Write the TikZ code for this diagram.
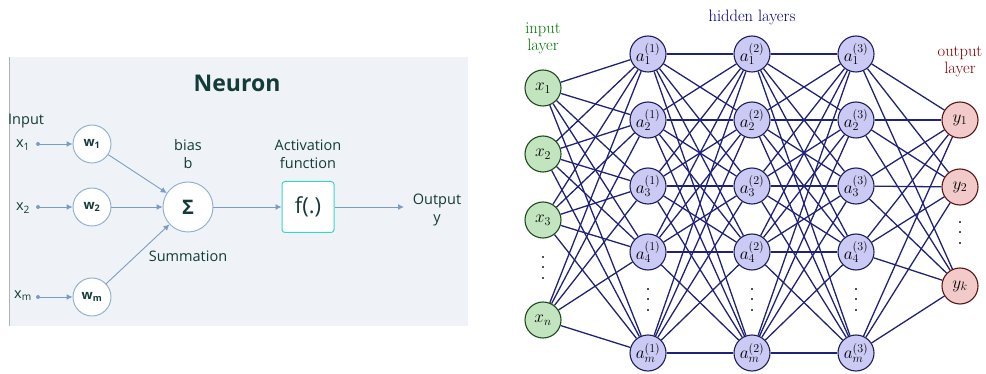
\documentclass[tikz,border=0pt]{standalone}
\usepackage{fontspec}
\newfontfamily\panelfont{Open Sans}
\usetikzlibrary{positioning,arrows.meta}

\definecolor{panelbg}{HTML}{EFF3F8}
\definecolor{paneltext}{HTML}{133B37}
\definecolor{wire}{HTML}{7C9DC2}
\definecolor{ring}{HTML}{8DADCF}
\definecolor{actline}{HTML}{3AD6C4}
\definecolor{netline}{HTML}{1F2275}
\definecolor{infill}{HTML}{C2E5BF}
\definecolor{inline}{HTML}{1E4A1E}
\definecolor{hidfill}{HTML}{CACAF4}
\definecolor{hidline}{HTML}{1E1E5A}
\definecolor{outfill}{HTML}{F2CACA}
\definecolor{outline}{HTML}{5A1414}

\newcommand{\tallvdots}{\vbox{\baselineskip=10.5pt\lineskiplimit=-20pt\hbox{.}\hbox{.}\hbox{.}}}

\begin{document}
\begin{tikzpicture}[x=1pt,y=-1pt,
		every node/.style={inner sep=0pt},
		paneltxt/.style={font=\panelfont\fontsize{14.5}{18}\selectfont, text=paneltext, align=center},
		weightnode/.style={circle, draw=ring, fill=white, line width=0.9pt, minimum size=38pt,
			font=\panelfont\bfseries\fontsize{13}{14}\selectfont, text=paneltext},
		sumnode/.style={circle, draw=ring, fill=white, line width=0.9pt, minimum size=50pt,
			font=\panelfont\bfseries\fontsize{20}{22}\selectfont, text=paneltext},
		actbox/.style={draw=actline, fill=white, rounded corners=3pt, line width=1pt,
			minimum width=52pt, minimum height=51pt, font=\panelfont\fontsize{22}{24}\selectfont, text=paneltext},
		wirearrow/.style={draw=wire, line width=0.9pt, -{Latex[length=6pt,width=6pt]}},
		innode/.style={circle, draw=inline, fill=infill, line width=1.1pt, minimum size=36pt, font=\fontsize{17}{19}\selectfont},
		hidnode/.style={circle, draw=hidline, fill=hidfill, line width=1.1pt, minimum size=36pt, font=\fontsize{17}{19}\selectfont},
		outnode/.style={circle, draw=outline, fill=outfill, line width=1.1pt, minimum size=36pt, font=\fontsize{17}{19}\selectfont},
		netedge/.style={draw=netline, line width=1.3pt},
		dotstxt/.style={font=\fontsize{24}{24}\selectfont},
		layertxt/.style={font=\fontsize{16.5}{17}\selectfont, align=center}]
	\useasboundingbox (0,0) rectangle (986,374);

	% single neuron panel
	\fill[panelbg] (9,57) rectangle (468,326);
	\draw[gray!60, line width=0.8pt] (9,57) -- (9,326);
	\node[font=\panelfont\bfseries\fontsize{23}{26}\selectfont, text=paneltext] (title) at (237,83) {Neuron};
	\node[paneltxt, anchor=west] (inputtxt) at (8,121) {Input};

	\node[weightnode] (w1) at (92,144) {w\textsubscript{1}};
	\node[weightnode] (w2) at (92,207) {w\textsubscript{2}};
	\node[weightnode] (wm) at (92,297) {w\textsubscript{m}};
	\node[paneltxt] (x1) at (23,145) {x\textsubscript{1}};
	\node[paneltxt] (x2) at (23,208) {x\textsubscript{2}};
	\node[paneltxt] (xm) at (23,296) {x\textsubscript{m}};
	\coordinate (d1) at (38,144);
	\coordinate (d2) at (38,207);
	\coordinate (dm) at (38,297);

	\node[sumnode] (sum) at (188,207) {Σ};
	\node[paneltxt] (bias) at (188,154) {bias\\b};
	\node[paneltxt] (summ) at (188,256) {Summation};
	\node[actbox] (act) at (308,207) {f(.)};
	\node[paneltxt] (acttxt) at (308,154) {Activation\\function};
	\node[paneltxt] (outtxt) at (437,210) {Output\\y};
	\coordinate (outend) at (404,207);

	\foreach \d/\w in {d1/w1,d2/w2,dm/wm}{
		\fill[wire] (\d) circle (2);
		\draw[wirearrow] (\d) -- (\w);
		\draw[wirearrow] (\w) -- (sum);
	}
	\draw[wirearrow] (sum) -- (act);
	\draw[wirearrow] (act) -- (outend);

	% network
	\foreach \i/\y/\lab in {1/88/x_1,2/154/x_2,3/220/x_3,4/320/x_n}
		\node[innode] (in\i) at (543,\y) {$\lab$};
	\foreach \l/\x in {1/648,2/752,3/856}
		\foreach \i/\y/\s in {1/54/1,2/120/2,3/186/3,4/252/4,5/353/m}
			\node[hidnode] (h\l-\i) at (\x,\y) {$a_{\s}^{(\l)}$};
	\foreach \i/\y/\lab in {1/120/y_1,2/187/y_2,3/286/y_k}
		\node[outnode] (out\i) at (960,\y) {$\lab$};

	\node[dotstxt] (indots) at (543,268) {\tallvdots};
	\foreach \l/\x in {1/648,2/752,3/856}
		\node[dotstxt] (hdots\l) at (\x,300) {\tallvdots};
	\node[dotstxt] (outdots) at (960,233) {\tallvdots};

	\foreach \i in {1,...,4}
		\foreach \j in {1,...,5}
			\draw[netedge] (in\i) -- (h1-\j);
	\foreach \l/\n in {1/2,2/3}
		\foreach \i in {1,...,5}
			\foreach \j in {1,...,5}
				\draw[netedge] (h\l-\i) -- (h\n-\j);
	\foreach \i in {1,...,5}
		\foreach \j in {1,2,3}
			\draw[netedge] (h3-\i) -- (out\j);

	\node[layertxt, text=green!45!black] (inlayer) at (543,38) {input\\layer};
	\node[layertxt, text=blue!50!black] (hidlayer) at (752,17) {hidden layers};
	\node[layertxt, text=red!50!black] (outlayer) at (960,62) {output\\layer};
\end{tikzpicture}
\end{document}
